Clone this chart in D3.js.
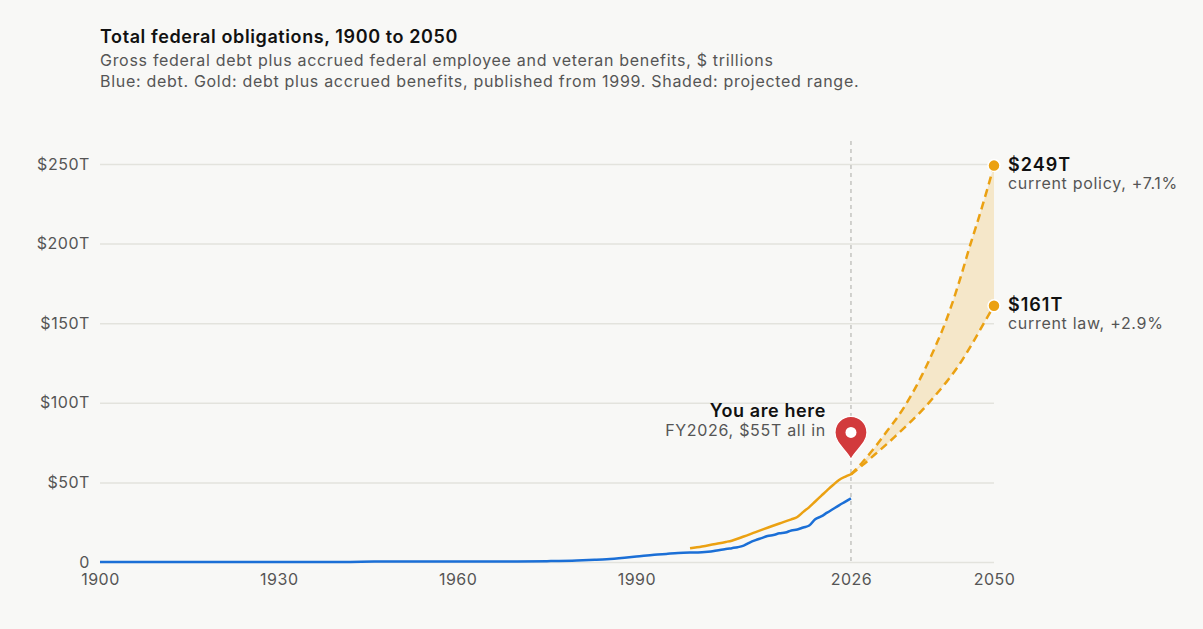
<!DOCTYPE html>
<html>
<head>
<meta charset="utf-8">
<script src="https://cdn.jsdelivr.net/npm/d3@7"></script>
<style>
  body { margin: 0; background: #f8f8f6; }
  svg { display: block; font-family: Inter, "Noto Sans", sans-serif; }
</style>
</head>
<body>
<script>
const width = 1203;
const height = 629;

// gross federal debt, $T
const debtYears = [1900, 1910, 1917, 1919, 1930, 1940, 1942, 1946, 1950, 1960, 1970, 1975, 1980, 1983, 1985, 1988, 1990, 1993, 1995, 1997, 1999, 2000, 2001, 2002, 2003, 2004, 2005, 2006, 2007, 2008, 2009, 2010, 2011, 2012, 2013, 2014, 2015, 2016, 2017, 2018, 2019, 2020, 2021, 2022, 2023, 2024, 2025, 2026];
const debtValues = [0.002, 0.003, 0.003, 0.025, 0.016, 0.05, 0.07, 0.27, 0.26, 0.29, 0.38, 0.54, 0.91, 1.4, 1.8, 2.7, 3.4, 4.6, 5.1, 5.6, 5.9, 6.0, 6.1, 6.4, 6.9, 7.6, 8.1, 8.7, 9.3, 10.3, 12.2, 13.7, 15.0, 16.3, 17.0, 18.0, 18.5, 19.8, 20.4, 21.7, 22.9, 26.9, 28.6, 31.0, 33.3, 35.6, 37.8, 40.0];

// debt plus accrued benefits, published from 1999
const totalYears = [1999, 2001, 2003, 2005, 2006, 2008, 2010, 2012, 2014, 2016, 2017, 2018, 2019, 2020, 2021, 2022, 2023, 2024, 2025, 2026];
const totalValues = [8.6, 9.8, 11.2, 12.6, 13.4, 16.0, 18.8, 21.5, 24.2, 26.8, 28.3, 31.5, 34.5, 38.0, 41.5, 45.0, 48.4, 51.5, 53.5, 55.0];

// projections 2026-2050
const projYears = [2026, 2028, 2030, 2032, 2034, 2036, 2038, 2040, 2042, 2044, 2046, 2048, 2050];
const policyValues = [55, 63, 72, 82, 92, 104, 118, 134, 152, 174, 199, 223, 249];
const lawValues = [55, 61, 67.5, 74, 81, 88, 95.5, 104, 113, 123, 135, 148, 161];

const yTicks = [0, 50, 100, 150, 200, 250];
const xTicks = [1900, 1930, 1960, 1990, 2026, 2050];

const blue = "#1b6fd6";
const gold = "#eba112";
const font = "Inter, 'Noto Sans', sans-serif";

const svg = d3.select("body").append("svg")
    .attr("width", width)
    .attr("height", height);

const x = d3.scaleLinear().domain([1900, 2050]).range([100, 994]);
const y = d3.scaleLinear().domain([0, 250]).range([562, 164]);

// titles
svg.append("text")
    .attr("x", 100).attr("y", 43)
    .attr("font-size", "18px").attr("font-weight", 600).attr("fill", "#111")
    .attr("letter-spacing", "0.6px")
    .text("Total federal obligations, 1900 to 2050");
svg.append("text")
    .attr("x", 100).attr("y", 66)
    .attr("font-size", "16px").attr("fill", "#555")
    .attr("letter-spacing", "0.7px")
    .text("Gross federal debt plus accrued federal employee and veteran benefits, $ trillions");
svg.append("text")
    .attr("x", 100).attr("y", 87)
    .attr("font-size", "16px").attr("fill", "#555")
    .attr("letter-spacing", "0.7px")
    .text("Blue: debt. Gold: debt plus accrued benefits, published from 1999. Shaded: projected range.");

// y grid + labels
const yAxis = svg.append("g")
    .attr("transform", "translate(100,0)")
    .call(d3.axisLeft(y).tickValues(yTicks).tickSize(-894).tickPadding(10)
        .tickFormat(d => d === 0 ? "0" : "$" + d + "T"));
yAxis.select(".domain").remove();
yAxis.selectAll("line").attr("stroke", "#e3e3dd").attr("stroke-width", 1.5);
yAxis.selectAll("text").attr("fill", "#555").attr("font-size", "16px")
    .attr("letter-spacing", "0.55px")
    .attr("font-family", font);

// x labels
const xAxis = svg.append("g")
    .attr("transform", "translate(0,562)")
    .call(d3.axisBottom(x).tickValues(xTicks).tickSize(0).tickPadding(12).tickFormat(d3.format("d")));
xAxis.select(".domain").remove();
xAxis.selectAll("text").attr("fill", "#555").attr("font-size", "16px")
    .attr("letter-spacing", "0.5px")
    .attr("font-family", font);

// "now" marker line
svg.append("line")
    .attr("x1", x(2026)).attr("x2", x(2026))
    .attr("y1", 141).attr("y2", 562)
    .attr("stroke", "#c4c4c0").attr("stroke-width", 1.5)
    .attr("stroke-dasharray", "4,4");

// projected range
const proj = projYears.map((yr, i) => ({ year: yr, hi: policyValues[i], lo: lawValues[i] }));
svg.append("path")
    .datum(proj)
    .attr("fill", "#f5e7c9")
    .attr("d", d3.area().curve(d3.curveMonotoneX)
        .x(d => x(d.year)).y0(d => y(d.lo)).y1(d => y(d.hi)));

const line = d3.line().curve(d3.curveMonotoneX).x(d => x(d[0])).y(d => y(d[1]));

svg.append("path")
    .datum(debtYears.map((yr, i) => [yr, debtValues[i]]))
    .attr("fill", "none").attr("stroke", blue).attr("stroke-width", 2.5)
    .attr("stroke-linejoin", "round")
    .attr("d", line);

svg.append("path")
    .datum(totalYears.map((yr, i) => [yr, totalValues[i]]))
    .attr("fill", "none").attr("stroke", gold).attr("stroke-width", 2.5)
    .attr("stroke-linejoin", "round")
    .attr("d", line);

[policyValues, lawValues].forEach(vals => {
    svg.append("path")
        .datum(projYears.map((yr, i) => [yr, vals[i]]))
        .attr("fill", "none").attr("stroke", gold).attr("stroke-width", 2.5)
        .attr("stroke-dasharray", "8,5")
        .attr("d", line);
});

// end points + labels
const ends = [
    { v: policyValues[policyValues.length - 1], big: "$249T", small: "current policy, +7.1%" },
    { v: lawValues[lawValues.length - 1], big: "$161T", small: "current law, +2.9%" }
];
ends.forEach(e => {
    svg.append("circle")
        .attr("cx", x(2050)).attr("cy", y(e.v)).attr("r", 6)
        .attr("fill", gold).attr("stroke", "#fff").attr("stroke-width", 1.5);
    svg.append("text")
        .attr("x", x(2050) + 14).attr("y", y(e.v) + 5)
        .attr("font-size", "18px").attr("font-weight", 600).attr("fill", "#111")
        .attr("letter-spacing", "1px")
        .text(e.big);
    svg.append("text")
        .attr("x", x(2050) + 14).attr("y", y(e.v) + 23)
        .attr("font-size", "16px").attr("fill", "#555")
        .attr("letter-spacing", "0.7px")
        .text(e.small);
});

// "you are here" pin
const px = x(2026), tipY = y(totalValues[totalValues.length - 1]) - 15;
const pin = svg.append("g").attr("transform", `translate(${px},${tipY})`);
pin.append("path")
    .attr("d", "M0,0 C-4,-9 -16,-16 -16,-27 A16,16 0 1 1 16,-27 C16,-16 4,-9 0,0 Z")
    .attr("fill", "#d23a3c").attr("stroke", "#fff").attr("stroke-width", 1.2);
pin.append("circle").attr("cx", 0).attr("cy", -27).attr("r", 5.5).attr("fill", "#fff");

svg.append("text")
    .attr("x", px - 25).attr("y", 417)
    .attr("text-anchor", "end")
    .attr("font-size", "18px").attr("font-weight", 600).attr("fill", "#111")
    .attr("letter-spacing", "0.6px")
    .text("You are here");
svg.append("text")
    .attr("x", px - 25).attr("y", 436)
    .attr("text-anchor", "end")
    .attr("font-size", "16px").attr("fill", "#555")
    .attr("letter-spacing", "0.7px")
    .text("FY2026, $55T all in");
</script>
</body>
</html>
